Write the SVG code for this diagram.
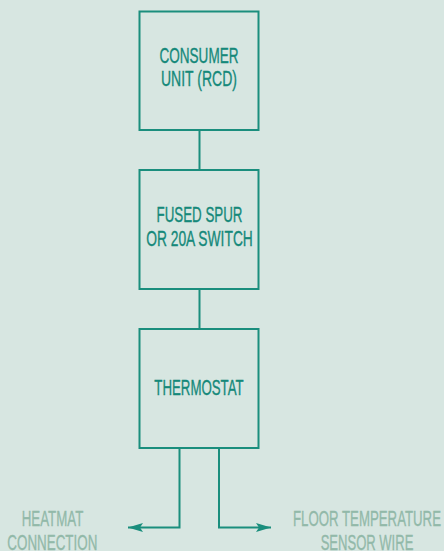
<svg xmlns="http://www.w3.org/2000/svg" width="444" height="551" viewBox="0 0 444 551">
<defs>
<style>
.box{fill:none;stroke:#1a8e7d;stroke-width:2}
.ln{fill:none;stroke:#1a8e7d;stroke-width:2}
.t{font-family:"Liberation Sans Narrow","Liberation Sans",Arial,sans-serif;font-size:22px;fill:#15897a;stroke:#15897a;stroke-width:0.35;text-anchor:middle}
.l{font-family:"Liberation Sans Narrow","Liberation Sans",Arial,sans-serif;font-size:22px;fill:#92b9a9;stroke:#92b9a9;stroke-width:0.35;text-anchor:middle}
</style>
<marker id="ah" viewBox="0 0 15 9" refX="15" refY="4.5" markerWidth="15" markerHeight="9" markerUnits="userSpaceOnUse" orient="auto"><path d="M0,0 L15,4.5 L0,9 L3,4.5 z" fill="#1a8e7d"/></marker>
</defs>
<rect width="444" height="551" fill="#d7e6e1"/>
<g id="connectors">
<line class="ln" x1="199.5" y1="130" x2="199.5" y2="170"/>
<line class="ln" x1="199.5" y1="289" x2="199.5" y2="329"/>
<polyline class="ln" points="179.5,448 179.5,527.5 128,527.5" marker-end="url(#ah)"/>
<polyline class="ln" points="219,448 219,527.5 271,527.5" marker-end="url(#ah)"/>
</g>
<g id="consumer-unit">
<rect class="box" x="139.5" y="11.5" width="119" height="118.5"/>
<text class="t" x="199" y="63.3" textLength="79" lengthAdjust="spacingAndGlyphs">CONSUMER</text>
<text class="t" x="199" y="86" textLength="76" lengthAdjust="spacingAndGlyphs">UNIT (RCD)</text>
</g>
<g id="fused-spur">
<rect class="box" x="139.5" y="170" width="119" height="119"/>
<text class="t" x="199.5" y="222.3" textLength="86" lengthAdjust="spacingAndGlyphs">FUSED SPUR</text>
<text class="t" x="199.5" y="245.7" textLength="106.7" lengthAdjust="spacingAndGlyphs">OR 20A SWITCH</text>
</g>
<g id="thermostat">
<rect class="box" x="139.5" y="329" width="119" height="119"/>
<text class="t" x="199" y="395" textLength="89.4" lengthAdjust="spacingAndGlyphs">THERMOSTAT</text>
</g>
<g id="heatmat">
<text class="l" x="52.5" y="525.7" textLength="61.6" lengthAdjust="spacingAndGlyphs">HEATMAT</text>
<text class="l" x="52.3" y="549.5" textLength="90" lengthAdjust="spacingAndGlyphs">CONNECTION</text>
</g>
<g id="sensor">
<text class="l" x="367" y="525.7" textLength="148" lengthAdjust="spacingAndGlyphs">FLOOR TEMPERATURE</text>
<text class="l" x="367" y="549.5" textLength="92.7" lengthAdjust="spacingAndGlyphs">SENSOR WIRE</text>
</g>
</svg>
